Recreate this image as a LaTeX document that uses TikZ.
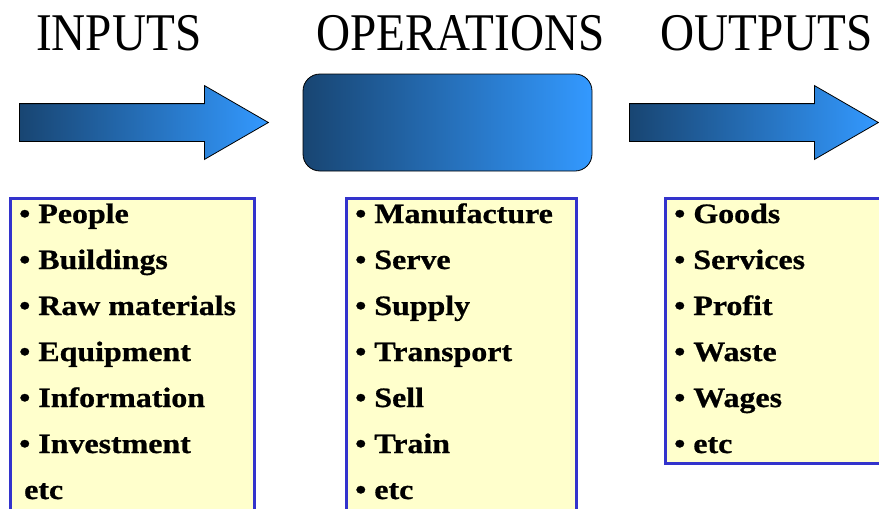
\documentclass[tikz,border=0pt]{standalone}
\usepackage{fontspec}
\setmainfont{Liberation Serif}
\newfontfamily\titlefont{Liberation Serif}[FakeStretch=0.89]
\newfontface\listfont{Liberation Serif Bold}[FakeStretch=1.14, FakeBold=0.8]
\usetikzlibrary{shapes.arrows}
\definecolor{flowdark}{RGB}{24,69,114}
\definecolor{flowlight}{RGB}{51,153,255}
\definecolor{listfill}{RGB}{255,255,204}
\definecolor{listline}{RGB}{51,51,204}

\begin{document}
\begin{tikzpicture}[x=1pt, y=-1pt]
	\useasboundingbox (0,0) rectangle (879,509);
	\clip (0,0) rectangle (879,509);
	\begin{scope}[every node/.style = {inner sep=0pt, anchor=base west,
		font=\titlefont\fontsize{53}{60}\selectfont}]
		\node (inputs) at (36,50) {INPUTS};
		\node (operations) at (316,50) {OPERATIONS};
		\node (outputs) at (660,50) {OUTPUTS};
	\end{scope}
	\begin{scope}[flowarrow/.style = {single arrow, draw=black, line width=0.8pt,
			left color=flowdark, right color=flowlight, minimum height=249pt,
			text height=0pt, text depth=0pt, inner xsep=0pt, inner ysep=18.5pt,
			single arrow head extend=18pt, single arrow tip angle=60, anchor=tail}]
		\node [flowarrow] (inarrow) at (19,122.5) {};
		\node [rectangle, rounded corners=17pt, draw=black, line width=0.8pt,
			left color=flowdark, right color=flowlight,
			minimum width=289pt, minimum height=97pt] (process) at (447.5,122.5) {};
		\node [flowarrow] (outarrow) at (629,122.5) {};
	\end{scope}
	\begin{scope}[every node/.style = {rectangle, draw=listline, fill=listfill,
		line width=3pt, inner sep=0pt, anchor=north west}]
		\node [minimum width=244pt, minimum height=330pt] (inbox) at (8.5,196.5) {};
		\node [minimum width=230pt, minimum height=330pt] (opbox) at (344.5,196.5) {};
		\node [minimum width=236pt, minimum height=265pt] (outbox) at (663.5,196.5) {};
	\end{scope}
	\begin{scope}[every node/.style = {inner sep=0pt, anchor=base west,
		font=\listfont\fontsize{28}{30}\selectfont}]
		\foreach \txt [count=\i from 0] in {People, Buildings, Raw materials,
			Equipment, Information, Investment}
			\node (in\i) at (19,{223+46*\i}) {\textbullet\ \txt};
		\node (inetc) at (24,499) {etc};
		\foreach \txt [count=\i from 0] in {Manufacture, Serve, Supply,
			Transport, Sell, Train, etc}
			\node (op\i) at (355,{223+46*\i}) {\textbullet\ \txt};
		\foreach \txt [count=\i from 0] in {Goods, Services, Profit,
			Waste, Wages, etc}
			\node (out\i) at (674,{223+46*\i}) {\textbullet\ \txt};
	\end{scope}
\end{tikzpicture}
\end{document}
